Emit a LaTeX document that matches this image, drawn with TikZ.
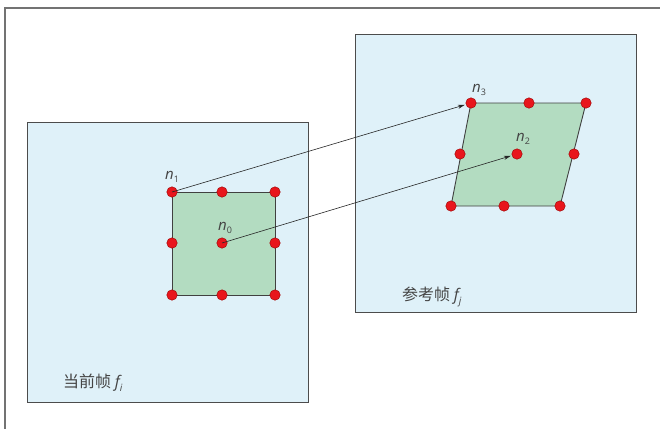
\documentclass[tikz,border=0pt]{standalone}
\usepackage{fontspec}
\newfontfamily\cjk{Noto Sans CJK SC}
\newfontfamily\labf{Open Sans}
\usetikzlibrary{arrows.meta}
\definecolor{panelblue}{HTML}{DFF1F9}
\definecolor{patchgreen}{HTML}{B3DCC1}
\definecolor{dotred}{HTML}{E8161C}
\definecolor{txtgray}{HTML}{444444}
\newcommand{\sbx}[1]{\raisebox{-0.15em}{\fontsize{9}{9}\selectfont\upshape #1}}
\newcommand{\sbi}[1]{\raisebox{-0.2em}{\fontsize{10}{10}\selectfont #1}}
\tikzset{
  panel/.style={fill=panelblue,draw=black!70,line width=1pt},
  patch/.style={fill=patchgreen,draw=black!75,line width=0.9pt},
  pt/.style={circle,fill=dotred,draw=red!60!black,line width=0.4pt,inner sep=0pt,minimum size=10.5pt},
  lab/.style={text=txtgray,font=\labf\itshape\fontsize{15}{15}\selectfont,inner sep=0pt},
  captext/.style={text=txtgray,font=\cjk\fontsize{16}{16}\selectfont,inner sep=0pt},
  arr/.style={-{Stealth[length=7pt,width=4pt]},line width=0.6pt,black!85,shorten >=1pt}
}
\begin{document}
\begin{tikzpicture}[x=1pt,y=-1pt]
\useasboundingbox (0,0) rectangle (660,429);
\draw[black!55,line width=1.2pt] (660,8) -- (5,8) -- (5,429);
% panels
\draw[panel] (27,122) rectangle (308,402);
\draw[panel] (355,34) rectangle (636,312);
% patches
\draw[patch] (172,192) -- (275,192) -- (275,295) -- (172,295) -- cycle;
\draw[patch] (471,103) -- (586,103) -- (560,206) -- (451,206) -- cycle;
% left points
\node[pt] (n1) at (172,192) {};
\node[pt] (a2) at (222,192) {};
\node[pt] (a3) at (275,192) {};
\node[pt] (a4) at (172,243) {};
\node[pt] (n0) at (222,243) {};
\node[pt] (a6) at (275,243) {};
\node[pt] (a7) at (172,295) {};
\node[pt] (a8) at (222,295) {};
\node[pt] (a9) at (275,295) {};
% right points
\node[pt] (n3) at (471,103) {};
\node[pt] (b2) at (529,103) {};
\node[pt] (b3) at (586,103) {};
\node[pt] (b4) at (460,154) {};
\node[pt] (n2) at (517,154) {};
\node[pt] (b6) at (574,154) {};
\node[pt] (b7) at (451,206) {};
\node[pt] (b8) at (504,206) {};
\node[pt] (b9) at (560,206) {};
% labels
\node[lab] (l1) at (172,177) {n\sbx{1}};
\node[lab] (l0) at (225,228) {n\sbx{0}};
\node[lab] (l3) at (479,90) {n\sbx{3}};
\node[lab] (l2) at (523,139) {n\sbx{2}};
% arrows
\draw[arr] (n1.center) -- (n3);
\draw[arr] (n0.center) -- (n2);
% captions
\node[captext,anchor=west] (c1) at (63,383) {当前帧 {\labf\itshape f\sbi{i}}};
\node[captext,anchor=west] (c2) at (402,297) {参考帧 {\labf\itshape f\sbi{j}}};
\end{tikzpicture}
\end{document}
